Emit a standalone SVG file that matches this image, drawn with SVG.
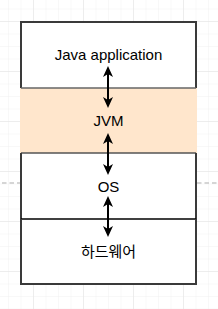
<svg xmlns="http://www.w3.org/2000/svg" width="218" height="309" viewBox="0 0 218 309">
<style>
.lbl{font-family:"Liberation Sans",Arial,sans-serif;font-size:15px;fill:#000;text-anchor:middle}
.kr{font-family:"Liberation Sans","Noto Sans CJK KR",sans-serif;font-size:15px;fill:#000;text-anchor:middle}
.edge{stroke:#000;stroke-width:2;fill:none;marker-start:url(#ah);marker-end:url(#ah)}
.side{stroke:#3a3a3a;stroke-width:2;fill:none}
</style>
<defs>
<pattern id="minor" patternUnits="userSpaceOnUse" x="8" y="8.5" width="12.5" height="12.5">
<path d="M0 0V12.5M0 0H12.5" stroke="#f1f1f1" stroke-width="1" fill="none"/>
</pattern>
<pattern id="major" patternUnits="userSpaceOnUse" x="33" y="21" width="50" height="50">
<path d="M0 0V50M0 0H50" stroke="#e2e2e2" stroke-width="1" fill="none"/>
</pattern>
<marker id="ah" viewBox="0 0 11 10" refX="5" refY="5" markerWidth="11" markerHeight="10" markerUnits="userSpaceOnUse" orient="auto-start-reverse">
<path d="M0,0 L11,5 L0,10 L3,5 Z" fill="#000"/>
</marker>
</defs>
<rect width="218" height="309" fill="#fff"/>
<rect width="218" height="309" fill="url(#minor)"/>
<rect width="218" height="309" fill="url(#major)"/>
<line x1="2" y1="183" x2="218" y2="183" stroke="#c8c8c8" stroke-width="1.5" stroke-dasharray="4.5 3"/>
<g id="java-app">
<rect x="21" y="22" width="175" height="66" fill="#fff"/>
<path class="side" d="M21 88V22H196V88"/>
<text class="lbl" x="108.5" y="60">Java application</text>
</g>
<g id="jvm">
<rect x="20" y="88" width="177" height="65" fill="#ffe6cc"/>
<line x1="21" y1="88" x2="196" y2="88" stroke="#666" stroke-width="1.5"/>
<text class="lbl" x="108.5" y="126">JVM</text>
</g>
<g id="os">
<rect x="21" y="153" width="175" height="66" fill="#fff"/>
<line x1="21" y1="153" x2="196" y2="153" stroke="#555" stroke-width="1.5"/>
<path class="side" d="M21 153V219M196 153V219"/>
<text class="lbl" x="108.5" y="192">OS</text>
</g>
<g id="hardware">
<rect x="21" y="219" width="175" height="65" fill="#fff"/>
<line x1="21" y1="219" x2="196" y2="219" stroke="#000" stroke-width="1.5"/>
<path class="side" d="M21 219V284H196V219"/>
<text class="kr" x="108.5" y="257">하드웨어</text>
</g>
<g id="connectors">
<line class="edge" x1="108" y1="72" x2="108" y2="102"/>
<line class="edge" x1="108" y1="139" x2="108" y2="169"/>
<line class="edge" x1="108" y1="202" x2="108" y2="231"/>
</g>
</svg>
